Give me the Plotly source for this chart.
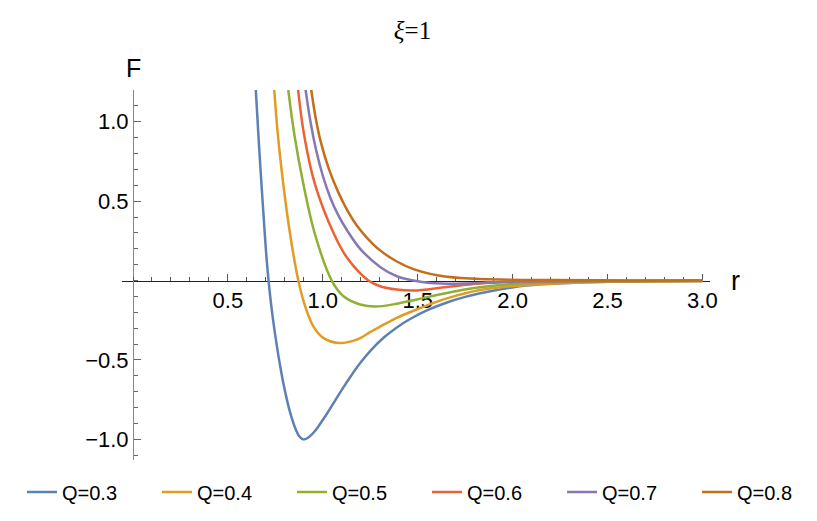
import plotly.graph_objects as go

# curves F(r), one per Q
r_q03 = [0.646, 0.660, 0.675, 0.690, 0.705, 0.720, 0.737, 0.757, 0.780, 0.805, 0.830, 0.855, 0.877, 0.897,
         0.918, 0.94, 0.965, 0.99, 1.02, 1.06, 1.10, 1.15, 1.20, 1.26, 1.32, 1.39, 1.46, 1.554, 1.654, 1.75,
         1.829, 2.005, 2.15, 2.35, 2.6, 3.0]
f_q03 = [1.22, 0.93, 0.64, 0.37, 0.12, -0.07, -0.24, -0.405, -0.57, -0.72, -0.84, -0.93, -0.982, -1.0,
         -0.993, -0.972, -0.938, -0.895, -0.842, -0.765, -0.688, -0.598, -0.515, -0.43, -0.36, -0.295, -0.242,
         -0.185, -0.138, -0.103, -0.08, -0.042, -0.024, -0.012, -0.006, -0.002]

r_q04 = [0.743, 0.763, 0.792, 0.828, 0.871, 0.907, 0.95, 1.003, 1.082, 1.179, 1.249, 1.302, 1.39,
         1.478, 1.566, 1.654, 1.829, 2.093, 2.5, 3.0]
f_q04 = [1.22, 0.92, 0.605, 0.29, 0.0, -0.162, -0.288, -0.361, -0.393, -0.372, -0.325, -0.29, -0.235,
         -0.19, -0.148, -0.112, -0.06, -0.026, -0.008, -0.003]

r_q05 = [0.816, 0.850, 0.898, 0.959, 1.047, 1.109, 1.197, 1.276, 1.39, 1.478, 1.566, 1.654, 1.741,
         1.829, 2.0, 2.3, 2.65, 3.0]
f_q05 = [1.22, 0.92, 0.605, 0.29, 0.0, -0.099, -0.151, -0.164, -0.146, -0.124, -0.1, -0.078, -0.058,
         -0.042, -0.022, -0.009, -0.004, -0.002]

r_q06 = [0.868, 0.901, 0.959, 1.06, 1.13, 1.24, 1.302, 1.39, 1.478, 1.654, 1.829, 2.093, 2.5, 3.0]
f_q06 = [1.22, 0.92, 0.605, 0.29, 0.14, 0.0, -0.036, -0.057, -0.063, -0.04, -0.019, -0.006, -0.002, -0.001]

r_q07 = [0.907, 0.935, 0.965, 1.00, 1.04, 1.082, 1.126, 1.197, 1.302, 1.39, 1.478, 1.566, 1.741, 2.0, 2.5, 3.0]
f_q07 = [1.22, 1.0, 0.82, 0.66, 0.52, 0.41, 0.32, 0.20, 0.086, 0.027, 0.0, -0.015, -0.019, -0.006, -0.002, 0.0]

r_q08 = [0.937, 0.96, 0.99, 1.03, 1.08, 1.13, 1.18, 1.24, 1.302, 1.39, 1.478, 1.566, 1.654, 1.829,
         2.2, 2.6, 3.0]
f_q08 = [1.22, 1.04, 0.87, 0.71, 0.56, 0.44, 0.345, 0.26, 0.19, 0.12, 0.072, 0.042, 0.024, 0.01,
         0.003, 0.001, 0.0]

labels = ['Q=0.3', 'Q=0.4', 'Q=0.5', 'Q=0.6', 'Q=0.7', 'Q=0.8']
colors = ['#5E81B5', '#E19C24', '#8FB032', '#EB6235', '#8778B3', '#C56E1A']

x_ticks = [0.5, 1.0, 1.5, 2.0, 2.5, 3.0]
x_ticktext = ['0.5', '1.0', '1.5', '2.0', '2.5', '3.0']
y_ticks = [-1.0, -0.5, 0.5, 1.0]
y_ticktext = ['\u22121.0', '\u22120.5', '0.5', '1.0']

x_range = [-0.058, 3.04]
y_range = [-1.13, 1.2]

curves = [(r_q03, f_q03), (r_q04, f_q04), (r_q05, f_q05),
          (r_q06, f_q06), (r_q07, f_q07), (r_q08, f_q08)]

fig = go.Figure()
for (r, f), name, c in zip(curves, labels, colors):
    fig.add_trace(go.Scatter(x=r, y=f, mode='lines', name=name,
                             line=dict(color=c, width=2.5, shape='spline', smoothing=1.0)))

# page body adds an 8px margin, so the figure is drawn 8px smaller and shifted
W, H = 809, 513
x_dom = [114 / W, 702 / W]

# axes cross at the origin, like Mathematica's default
xpos = (0 - y_range[0]) / (y_range[1] - y_range[0])
ypos = x_dom[0] + (0 - x_range[0]) / (x_range[1] - x_range[0]) * (x_dom[1] - x_dom[0])

fig.update_xaxes(range=x_range, domain=x_dom, anchor='free', position=xpos, showgrid=False,
                 zeroline=False, showline=True, linecolor='#222222', linewidth=1, layer='below traces',
                 tickmode='array', tickvals=x_ticks, ticktext=x_ticktext, tickangle=0,
                 ticks='inside', ticklen=7, tickcolor='#555555', automargin=False,
                 minor=dict(dtick=0.1, tick0=0, ticks='inside', ticklen=4, tickcolor='#555555'),
                 tickfont=dict(family='Arial, Liberation Sans', size=22, color='black'))
fig.update_yaxes(range=y_range, anchor='free', position=ypos, showgrid=False, zeroline=False,
                 showline=True, linecolor='#888888', linewidth=1, layer='below traces',
                 tickmode='array', tickvals=y_ticks, ticktext=y_ticktext, automargin=False,
                 ticks='inside', ticklen=7, tickcolor='#666666',
                 minor=dict(dtick=0.1, tick0=0, ticks='inside', ticklen=4, tickcolor='#666666'),
                 tickfont=dict(family='Arial, Liberation Sans', size=22, color='black'))

fig.update_layout(
    width=W, height=H,
    margin=dict(l=0, r=0, t=82, b=61, autoexpand=False),
    plot_bgcolor='white', paper_bgcolor='white',
    title=dict(text='<i>\u03be</i>=1', x=0.5, xref='paper', xanchor='center',
               y=1 - 22 / H, yref='container', yanchor='middle',
               font=dict(family='Liberation Serif, Times New Roman', size=25, color='black')),
    legend=dict(orientation='h', x=419 / W, xanchor='center', xref='container', y=-0.0865, yanchor='middle',
                font=dict(family='Arial, Liberation Sans', size=20, color='black'),
                entrywidth=90, traceorder='normal'),
    annotations=[
        dict(text='F', x=0, y=1.0, xref='x', yref='paper', yshift=22, showarrow=False,
             xanchor='center', yanchor='middle',
             font=dict(family='Arial, Liberation Sans', size=25, color='black')),
        dict(text='r', x=x_dom[1], y=0, xref='paper', yref='y', xshift=25, showarrow=False,
             xanchor='center', yanchor='middle',
             font=dict(family='Arial, Liberation Sans', size=27, color='black')),
    ],
)

fig.write_html("out.html")
